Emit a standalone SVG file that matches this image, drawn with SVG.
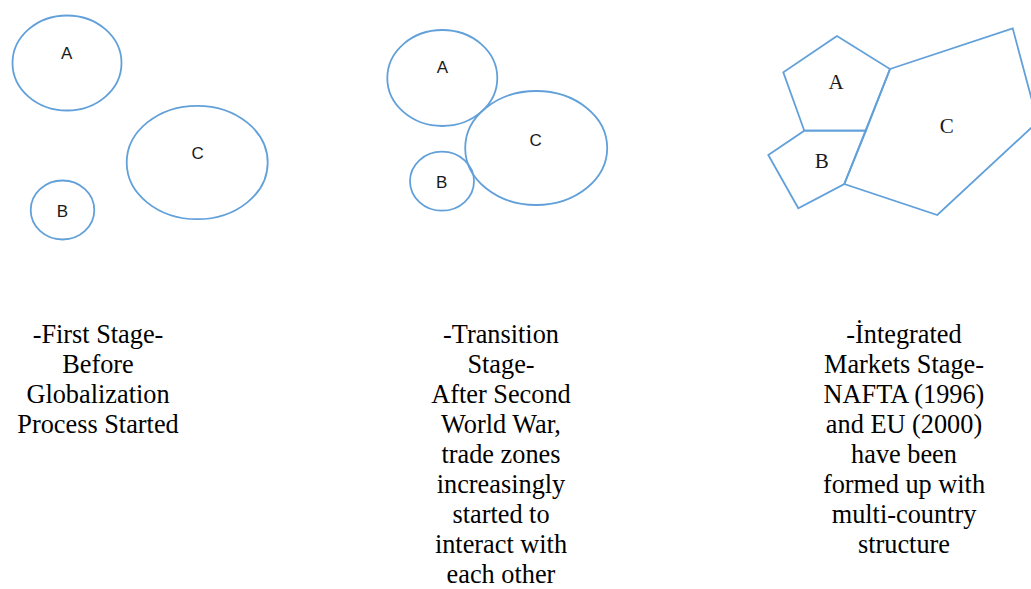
<svg xmlns="http://www.w3.org/2000/svg" width="1031" height="589" viewBox="0 0 1031 589">
  <style>
    .zone { fill: none; stroke: #62a0da; stroke-width: 1.8; stroke-linejoin: miter; }
    .lbl-sans { font-family: 'Liberation Sans', Arial, sans-serif; font-size: 17px; fill: #1a1a1a; text-anchor: middle; }
    .lbl-serif { font-family: 'Liberation Serif', 'Times New Roman', serif; font-size: 21px; fill: #1a1a1a; text-anchor: middle; }
  </style>
  <rect width="1031" height="589" fill="#ffffff"/>

  <!-- Stage 1: separate zones -->
  <g id="stage1">
    <g id="s1-a">
      <ellipse class="zone" cx="67" cy="63" rx="54.5" ry="47.5"/>
      <text class="lbl-sans" x="66.7" y="58.7">A</text>
    </g>
    <g id="s1-c">
      <ellipse class="zone" cx="197.2" cy="162.5" rx="70.5" ry="56.7"/>
      <text class="lbl-sans" x="197.7" y="159">C</text>
    </g>
    <g id="s1-b">
      <ellipse class="zone" cx="62.5" cy="210" rx="31.8" ry="29.5"/>
      <text class="lbl-sans" x="62.3" y="217.3">B</text>
    </g>
    <g id="s1-caption" font-family="'Liberation Serif', 'Times New Roman', serif" font-size="26.3" fill="#000" text-anchor="middle">
      <text x="98" y="342.5">-First Stage-</text>
      <text x="98" y="372.5">Before</text>
      <text x="98" y="402.5">Globalization</text>
      <text x="98" y="432.5">Process Started</text>
    </g>
  </g>

  <!-- Stage 2: touching zones -->
  <g id="stage2">
    <g id="s2-a">
      <ellipse class="zone" cx="442.3" cy="78" rx="55" ry="48"/>
      <text class="lbl-sans" x="442.3" y="72.7">A</text>
    </g>
    <g id="s2-c">
      <ellipse class="zone" cx="536.2" cy="148" rx="71" ry="57"/>
      <text class="lbl-sans" x="535.7" y="146">C</text>
    </g>
    <g id="s2-b">
      <ellipse class="zone" cx="442" cy="181.2" rx="32" ry="29.5"/>
      <text class="lbl-sans" x="441.7" y="188.3">B</text>
    </g>
    <g id="s2-caption" font-family="'Liberation Serif', 'Times New Roman', serif" font-size="26.3" fill="#000" text-anchor="middle">
      <text x="501" y="342.5">-Transition</text>
      <text x="501" y="372.5">Stage-</text>
      <text x="501" y="402.5">After Second</text>
      <text x="501" y="432.5">World War,</text>
      <text x="501" y="462.5">trade zones</text>
      <text x="501" y="492.5">increasingly</text>
      <text x="501" y="522.5">started to</text>
      <text x="501" y="552.5">interact with</text>
      <text x="501" y="582.5">each other</text>
    </g>
  </g>

  <!-- Stage 3: integrated polygon zones sharing borders -->
  <g id="stage3">
    <g id="s3-a">
      <polygon class="zone" points="837,36 783.3,72.3 804.3,130.7 866,130.7 890,69"/>
      <text class="lbl-serif" x="836" y="89.3">A</text>
    </g>
    <g id="s3-b">
      <polygon class="zone" points="804.3,130.7 866,130.7 844.3,184 798.3,208.3 768.3,155"/>
      <text class="lbl-serif" x="821.7" y="168.3">B</text>
    </g>
    <g id="s3-c">
      <polygon class="zone" points="890,69 1012.7,28.3 1037.7,121.8 937.3,215 844.3,184"/>
      <text class="lbl-serif" x="946.7" y="133.3">C</text>
    </g>
    <g id="s3-caption" font-family="'Liberation Serif', 'Times New Roman', serif" font-size="26.3" fill="#000" text-anchor="middle">
      <text x="904" y="342.5">-İntegrated</text>
      <text x="904" y="372.5">Markets Stage-</text>
      <text x="904" y="402.5">NAFTA (1996)</text>
      <text x="904" y="432.5">and EU (2000)</text>
      <text x="904" y="462.5">have been</text>
      <text x="904" y="492.5">formed up with</text>
      <text x="904" y="522.5">multi-country</text>
      <text x="904" y="552.5">structure</text>
    </g>
  </g>

  <!-- no connectors in this figure -->
  <g id="connectors"/>
</svg>
